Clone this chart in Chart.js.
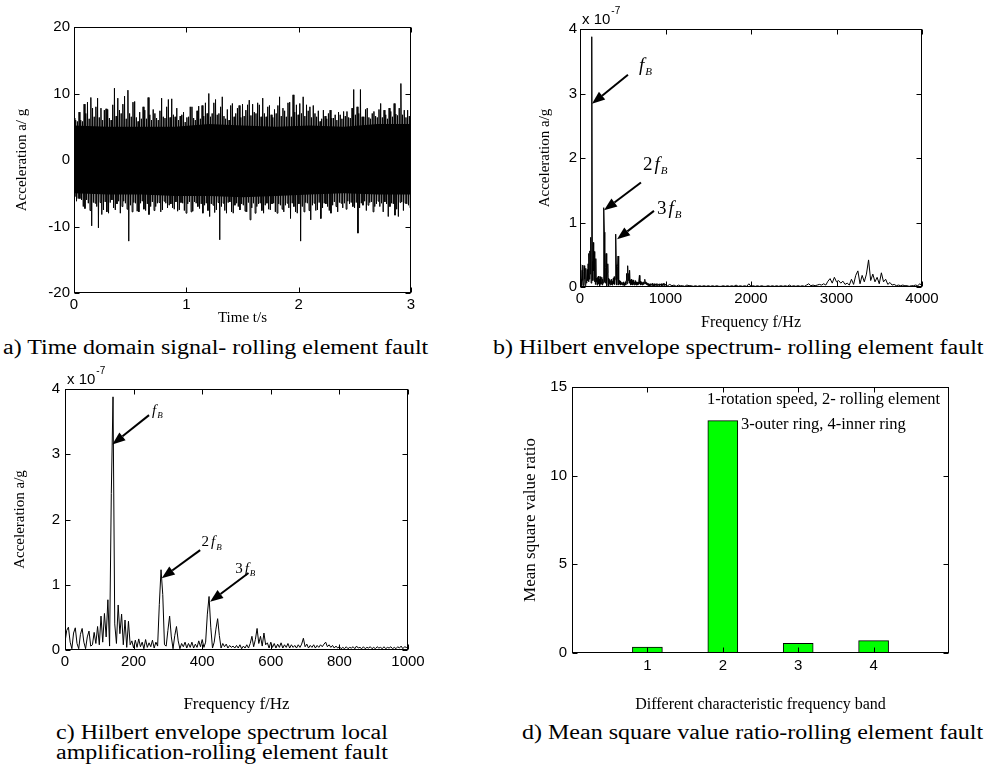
<!DOCTYPE html>
<html>
<head>
<meta charset="utf-8">
<script src="https://cdn.jsdelivr.net/npm/chart.js@4.4.1/dist/chart.umd.min.js"></script>
<style>
  body { margin: 0; background: #fff; }
  #page { position: relative; width: 991px; height: 771px; overflow: hidden; background: #fff; }
  canvas { position: absolute; }
  .cap { position: absolute; font-family: "Liberation Serif", "Times New Roman", serif; font-size: 20px; line-height: 20px;
         white-space: nowrap; color: #000; transform: scaleX(1.2); transform-origin: left top; }
</style>
</head>
<body>
<div id="page">
  <canvas id="chartA" width="420" height="330" style="left:0;top:0"></canvas>
  <canvas id="chartB" width="511" height="335" style="left:480px;top:0"></canvas>
  <canvas id="chartC" width="440" height="360" style="left:0;top:360px"></canvas>
  <canvas id="chartD" width="511" height="360" style="left:480px;top:360px"></canvas>
  <div class="cap" style="left:3px;top:337px">a) Time domain signal- rolling element fault</div>
  <div class="cap" style="left:493px;top:337px">b) Hilbert envelope spectrum- rolling element fault</div>
  <div class="cap" style="left:56px;top:722px">c) Hilbert envelope spectrum local<br>amplification-rolling element fault</div>
  <div class="cap" style="left:522px;top:722px">d) Mean square value ratio-rolling element fault</div>
</div>
<script>
// a) time signal: per 0.03 s bin, a max/min pair and a second pair half a bin later
const sigStep = 0.03;
const sigUpper = [
  6.3, 5.8, 6.0, 8.4, 8.7, 9.4, 6.5, 9.3, 7.8, 7.5,
  7.6, 6.0, 10.8, 9.3, 7.0, 9.6, 10.5, 6.5, 8.8, 5.8,
  6.2, 7.5, 9.4, 6.0, 7.0, 6.0, 9.3, 6.3, 9.1, 9.2,
  6.5, 6.0, 6.8, 5.7, 6.5, 8.0, 6.0, 8.1, 8.2, 8.6,
  10.0, 7.0, 9.1, 7.0, 9.5, 6.2, 6.0, 8.5, 7.0, 8.2,
  8.4, 7.5, 9.0, 8.4, 7.0, 8.3, 9.3, 6.5, 8.2, 6.4,
  7.0, 9.5, 7.8, 6.5, 8.7, 9.8, 8.3, 8.5, 9.5, 8.3,
  8.0, 8.2, 6.5, 5.8, 7.5, 6.2, 7.5, 6.3, 6.0, 6.8,
  7.3, 7.3, 6.3, 10.6, 8.0, 10.6, 6.5, 7.8, 6.2, 7.3,
  6.4, 8.5, 7.5, 6.2, 7.3, 8.5, 6.7, 11.5, 7.5, 7.5
];
const sigLower = [
  -5.5, -5.8, -6.0, -7.3, -6.5, -9.9, -6.5, -10.2, -8.2, -6.3,
  -8.0, -6.0, -7.5, -6.2, -7.0, -6.5, -12.2, -7.8, -6.5, -7.8,
  -6.2, -7.6, -8.2, -6.3, -7.0, -6.4, -7.5, -6.5, -6.8, -7.2,
  -6.3, -7.5, -6.5, -8.0, -6.3, -7.7, -6.5, -7.3, -8.0, -6.5,
  -8.5, -6.8, -7.5, -12.0, -6.5, -8.0, -6.3, -8.0, -6.5, -7.5,
  -6.8, -7.8, -9.0, -6.5, -7.0, -6.5, -8.0, -6.5, -7.5, -6.5,
  -8.0, -6.8, -7.8, -6.5, -8.8, -7.0, -8.0, -12.2, -7.8, -6.5,
  -9.0, -6.5, -7.5, -8.8, -6.5, -7.0, -8.0, -6.3, -7.8, -6.5,
  -6.5, -6.2, -6.4, -7.2, -11.0, -6.5, -6.2, -6.8, -6.3, -7.0,
  -6.2, -6.5, -6.3, -8.5, -6.5, -8.3, -8.5, -6.3, -6.5, -6.8
];
const sigUpper2 = [
  6.0, 7.2, 5.8, 7.0, 6.2, 7.8, 8.0, 6.4, 6.0, 7.7,
  6.3, 8.3, 6.6, 7.5, 8.4, 6.2, 7.0, 8.7, 6.4, 7.2,
  8.0, 6.2, 6.8, 7.6, 6.3, 7.4, 6.5, 8.0, 6.4, 6.8,
  7.8, 6.6, 7.2, 6.4, 8.0, 6.3, 7.4, 6.2, 6.6, 7.0,
  6.5, 8.6, 6.8, 8.0, 6.6, 7.6, 8.2, 6.5, 7.8, 6.4,
  6.6, 8.3, 6.7, 7.2, 8.6, 6.5, 7.0, 8.0, 6.8, 7.6,
  8.2, 6.6, 7.4, 8.6, 6.5, 7.2, 6.8, 7.0, 6.6, 7.4,
  6.4, 7.0, 7.4, 6.2, 6.6, 7.0, 6.3, 6.8, 7.2, 6.2,
  6.6, 6.4, 7.8, 6.8, 7.0, 6.5, 7.6, 6.4, 7.0, 6.6,
  7.6, 6.4, 6.8, 7.8, 6.5, 6.9, 7.8, 6.8, 6.4, 6.6
];
const sigLower2 = [
  -6.2, -5.8, -7.0, -6.0, -7.6, -6.4, -7.0, -6.4, -7.5, -7.8,
  -6.4, -7.2, -6.6, -8.0, -6.2, -7.4, -6.8, -6.4, -7.7, -6.5,
  -7.4, -6.6, -7.0, -7.6, -6.5, -7.8, -6.2, -7.2, -6.6, -7.4,
  -7.7, -6.4, -7.6, -6.6, -7.8, -6.3, -7.0, -6.6, -6.8, -7.6,
  -6.6, -7.9, -6.4, -7.0, -7.6, -6.4, -7.8, -6.8, -7.0, -6.6,
  -7.7, -6.4, -7.2, -8.0, -6.6, -7.6, -6.8, -7.4, -6.6, -7.8,
  -6.6, -7.4, -6.8, -7.2, -6.5, -7.8, -6.6, -7.0, -6.4, -7.6,
  -6.8, -7.6, -6.4, -7.2, -6.6, -7.6, -6.8, -7.0, -6.4, -7.2,
  -7.4, -6.6, -7.0, -6.4, -7.2, -6.8, -7.6, -6.4, -7.8, -6.6,
  -7.0, -7.8, -6.6, -7.0, -6.6, -7.4, -6.4, -7.6, -6.6, -7.2
];
// solid core of the signal, every 0.3 s
const coreStep = 0.3;
const coreTop = [5.2, 5.0, 5.0, 5.0, 5.4, 5.2, 5.0, 5.2, 5.0, 5.4, 5.4];
const coreBottom = [-5.0, -5.2, -5.2, -5.4, -5.4, -5.6, -5.4, -5.2, -5.0, -5.2, -5.2];

// b/c) envelope spectrum, x 1e-7 g; 0-1000 Hz every 5 Hz
const specLowStep = 5;
const specLow = [
  0.12, 0.30, 0.35, 0.12, 0.02, 0.26, 0.34, 0.10, 0.02, 0.24, 0.33, 0.12, 0.02, 0.20, 0.29, 0.06, 0.08, 0.27, 0.10, 0.36,
  0.08, 0.52, 0.12, 0.56, 0.20, 0.77, 0.06, 2.40, 3.88, 0.40, 0.10, 0.69, 0.25, 0.55, 0.08, 0.46, 0.04, 0.44, 0.08, 0.14,
  0.03, 0.15, 0.04, 0.17, 0.05, 0.12, 0.02, 0.16, 0.04, 0.11, 0.05, 0.15, 0.03, 0.12, 0.06, 0.70, 1.23, 0.85, 0.08, 0.06,
  0.30, 0.52, 0.20, 0.02, 0.22, 0.36, 0.14, 0.02, 0.10, 0.05, 0.12, 0.03, 0.10, 0.04, 0.12, 0.03, 0.09, 0.04, 0.14, 0.05,
  0.16, 0.04, 0.12, 0.55, 0.82, 0.35, 0.03, 0.12, 0.32, 0.48, 0.22, 0.03, 0.10, 0.05, 0.09, 0.03, 0.07, 0.04, 0.06, 0.03,
  0.07, 0.03, 0.08, 0.02, 0.06, 0.03, 0.08, 0.03, 0.10, 0.21, 0.05, 0.16, 0.33, 0.10, 0.21, 0.06, 0.26, 0.08, 0.11, 0.03,
  0.12, 0.04, 0.10, 0.03, 0.09, 0.04, 0.11, 0.03, 0.08, 0.04, 0.10, 0.03, 0.08, 0.04, 0.07, 0.03, 0.08, 0.04, 0.09, 0.18,
  0.05, 0.09, 0.03, 0.07, 0.04, 0.08, 0.03, 0.07, 0.04, 0.08, 0.05, 0.09, 0.12, 0.05, 0.08, 0.04, 0.07, 0.03, 0.06, 0.03,
  0.05, 0.02, 0.04, 0.02, 0.05, 0.02, 0.04, 0.03, 0.05, 0.02, 0.06, 0.03, 0.04, 0.02, 0.05, 0.02, 0.04, 0.03, 0.05, 0.02,
  0.04, 0.02, 0.05, 0.03, 0.04, 0.02, 0.05, 0.02, 0.04, 0.03, 0.05, 0.02, 0.04, 0.02, 0.05, 0.03, 0.06, 0.02, 0.05, 0.04,
  0.03
];
// 1025-4000 Hz every 25 Hz
const specHighStart = 1025;
const specHighStep = 25;
const specHigh = [
  0.02, 0.04, 0.02, 0.03, 0.01, 0.03, 0.02, 0.02, 0.01, 0.03, 0.02, 0.02, 0.01, 0.02, 0.01, 0.02, 0.01, 0.02, 0.01, 0.02,
  0.01, 0.02, 0.01, 0.02, 0.01, 0.01, 0.02, 0.01, 0.02, 0.01, 0.02, 0.01, 0.03, 0.01, 0.02, 0.01, 0.02, 0.01, 0.05, 0.01,
  0.02, 0.01, 0.02, 0.01, 0.02, 0.01, 0.01, 0.02, 0.01, 0.02, 0.01, 0.02, 0.01, 0.02, 0.01, 0.02, 0.01, 0.03, 0.01, 0.02,
  0.01, 0.02, 0.01, 0.02, 0.01, 0.03, 0.05, 0.02, 0.03, 0.02, 0.03, 0.04, 0.03, 0.05, 0.03, 0.09, 0.13, 0.06, 0.15, 0.08,
  0.10, 0.06, 0.09, 0.04, 0.06, 0.03, 0.12, 0.04, 0.18, 0.25, 0.05, 0.18, 0.08, 0.20, 0.42, 0.10, 0.20, 0.08, 0.15, 0.05,
  0.22, 0.08, 0.12, 0.04, 0.07, 0.03, 0.04, 0.02, 0.03, 0.02, 0.03, 0.02, 0.02, 0.01, 0.02, 0.02, 0.03, 0.02, 0.05, 0.02
];

// d) mean square value ratio per band
const bands = [1, 2, 3, 4];
const msRatio = [0.33, 13.1, 0.55, 0.7];

const serif = '"Liberation Serif", "Times New Roman", serif';
const sans = '"Liberation Sans", Arial, sans-serif';
Chart.defaults.color = '#000';
Chart.defaults.animation = false;

const sigPoints = [];
sigUpper.forEach((v, i) => {
  const t = i * sigStep;
  sigPoints.push({ x: t, y: v });
  sigPoints.push({ x: t + sigStep / 4, y: sigLower[i] });
  sigPoints.push({ x: t + sigStep / 2, y: sigUpper2[i] });
  sigPoints.push({ x: t + 3 * sigStep / 4, y: sigLower2[i] });
});
const coreTopPts = coreTop.map((v, i) => ({ x: i * coreStep, y: v }));
const coreBotPts = coreBottom.map((v, i) => ({ x: i * coreStep, y: v }));

const lowPts = specLow.map((v, i) => ({ x: i * specLowStep, y: v }));
const specPts = lowPts.concat(specHigh.map((v, i) => ({ x: specHighStart + i * specHighStep, y: v })));

// box round the plot with inward ticks on all four sides
const frame = {
  id: 'frame',
  afterDraw(chart, args, o) {
    const { ctx, chartArea: a } = chart;
    const xs = chart.scales.x, ys = chart.scales.y;
    const L = 5;
    ctx.save();
    ctx.strokeStyle = '#000';
    ctx.lineWidth = 1;
    const l = Math.round(a.left) + 0.5, t = Math.round(a.top) + 0.5;
    const r = Math.round(a.right) - 0.5, b = Math.round(a.bottom) - 0.5;
    ctx.strokeRect(l, t, r - l, b - t);
    ctx.beginPath();
    xs.ticks.forEach(tk => {
      if (o.onlyX && !o.onlyX.includes(tk.value)) return;
      const px = Math.round(xs.getPixelForValue(tk.value)) + 0.5;
      ctx.moveTo(px, b); ctx.lineTo(px, b - L);
      ctx.moveTo(px, t); ctx.lineTo(px, t + L);
    });
    ys.ticks.forEach(tk => {
      const py = Math.round(ys.getPixelForValue(tk.value)) + 0.5;
      ctx.moveTo(l, py); ctx.lineTo(l + L, py);
      ctx.moveTo(r, py); ctx.lineTo(r - L, py);
    });
    ctx.stroke();
    ctx.restore();
  }
};

function drawArrow(ctx, x1, y1, x2, y2) {
  const ang = Math.atan2(y2 - y1, x2 - x1);
  const head = 13, half = 5;
  const bx = x2 - head * Math.cos(ang), by = y2 - head * Math.sin(ang);
  ctx.lineWidth = 2;
  ctx.beginPath(); ctx.moveTo(x1, y1); ctx.lineTo(bx, by); ctx.stroke();
  ctx.beginPath();
  ctx.moveTo(x2, y2);
  ctx.lineTo(bx + half * Math.sin(ang), by - half * Math.cos(ang));
  ctx.lineTo(bx - half * Math.sin(ang), by + half * Math.cos(ang));
  ctx.closePath(); ctx.fill();
}

function drawHarmonic(ctx, x, y, prefix, size) {
  ctx.textAlign = 'left';
  ctx.textBaseline = 'alphabetic';
  let cx = x;
  if (prefix) {
    ctx.font = size + 'px ' + serif;
    ctx.fillText(prefix, cx, y);
    cx += ctx.measureText(prefix).width + 2;
  }
  ctx.font = 'italic ' + size + 'px ' + serif;
  ctx.fillText('f', cx, y);
  cx += ctx.measureText('f').width + 1;
  ctx.font = 'italic ' + Math.round(size * 0.6) + 'px ' + serif;
  ctx.fillText('B', cx, y + size * 0.22);
}

// arrows, harmonic labels, exponent and free text
const notes = {
  id: 'notes',
  afterDraw(chart, args, o) {
    const { ctx, chartArea: a } = chart;
    const xs = chart.scales.x, ys = chart.scales.y;
    ctx.save();
    ctx.fillStyle = '#000';
    ctx.strokeStyle = '#000';
    (o.arrows || []).forEach(ar => {
      drawArrow(ctx, xs.getPixelForValue(ar[0]), ys.getPixelForValue(ar[1]),
        xs.getPixelForValue(ar[2]), ys.getPixelForValue(ar[3]));
    });
    (o.harmonics || []).forEach(h => {
      drawHarmonic(ctx, xs.getPixelForValue(h.x), ys.getPixelForValue(h.y), h.prefix, o.size);
    });
    if (o.exponent) {
      ctx.textAlign = 'left';
      ctx.textBaseline = 'alphabetic';
      ctx.font = '15px ' + sans;
      ctx.fillText('x 10', a.left + 2, a.top - 5);
      const w = ctx.measureText('x 10').width;
      ctx.font = '10px ' + sans;
      ctx.fillText('-7', a.left + 3 + w, a.top - 15);
    }
    (o.texts || []).forEach(tx => {
      ctx.textAlign = 'left';
      ctx.textBaseline = 'middle';
      ctx.font = '16.5px ' + serif;
      ctx.fillText(tx.text, xs.getPixelForValue(tx.x), ys.getPixelForValue(tx.y));
    });
    ctx.restore();
  }
};

function xAxis(min, max, step, title, h, titlePad, tickPad, titleSize) {
  return {
    type: 'linear', min: min, max: max, offset: false,
    ticks: { stepSize: step, font: { family: sans, size: 15 }, padding: tickPad, color: '#000',
      callback: v => String(v) },
    grid: { display: false, drawTicks: false }, border: { display: false },
    title: { display: true, text: title, color: '#000', font: { family: serif, size: titleSize },
      padding: { top: 0, bottom: titlePad } },
    afterFit: s => { s.height = h; }
  };
}

function yAxis(min, max, step, title, w, titlePad, tickPad, titleSize) {
  return {
    type: 'linear', min: min, max: max,
    ticks: { stepSize: step, font: { family: sans, size: 15 }, padding: tickPad, color: '#000',
      callback: v => String(v) },
    grid: { display: false, drawTicks: false }, border: { display: false },
    title: { display: true, text: title, color: '#000', font: { family: serif, size: titleSize || 15 },
      padding: { top: titlePad, bottom: 0 } },
    afterFit: s => { s.width = w; }
  };
}

const basePlugins = { legend: { display: false }, tooltip: { enabled: false } };

// a) time domain signal
new Chart(document.getElementById('chartA'), {
  type: 'line',
  data: {
    datasets: [
      { data: coreTopPts, borderWidth: 0, pointRadius: 0, fill: '+1', backgroundColor: '#000' },
      { data: coreBotPts, borderWidth: 0, pointRadius: 0, fill: false },
      { data: sigPoints, borderColor: '#000', borderWidth: 1, pointRadius: 0, tension: 0, fill: false }
    ]
  },
  options: {
    responsive: false,
    layout: { padding: { top: 27, right: 9, left: 0, bottom: 0 } },
    scales: {
      x: xAxis(0, 3, 1, 'Time t/s', 37, 3, 3, 15),
      y: yAxis(-20, 20, 10, 'Acceleration a/ g', 74, 13, 4)
    },
    plugins: Object.assign({ frame: {} }, basePlugins)
  },
  plugins: [frame]
});

// b) Hilbert envelope spectrum
new Chart(document.getElementById('chartB'), {
  type: 'line',
  data: {
    datasets: [
      { data: specPts, borderColor: '#000', borderWidth: 1, pointRadius: 0, tension: 0, fill: false }
    ]
  },
  options: {
    responsive: false,
    layout: { padding: { top: 29, right: 69, left: 0, bottom: 0 } },
    scales: {
      x: xAxis(0, 4000, 1000, 'Frequency f/Hz', 48, 3, 3, 16),
      y: yAxis(0, 4, 1, 'Acceleration a/g', 100, 56, 3)
    },
    plugins: Object.assign({
      frame: {},
      notes: {
        size: 19,
        exponent: true,
        arrows: [[561, 3.29, 140, 2.84], [713, 1.62, 281, 1.19], [865, 1.18, 433, 0.74]],
        harmonics: [{ x: 690, y: 3.35, prefix: '' }, { x: 737, y: 1.81, prefix: '2' }, { x: 901, y: 1.13, prefix: '3' }]
      }
    }, basePlugins)
  },
  plugins: [frame, notes]
});

// c) local amplification 0-1000 Hz
new Chart(document.getElementById('chartC'), {
  type: 'line',
  data: {
    datasets: [
      { data: lowPts, borderColor: '#000', borderWidth: 1, pointRadius: 0, tension: 0, fill: false }
    ]
  },
  options: {
    responsive: false,
    layout: { padding: { top: 29, right: 32, left: 0, bottom: 0 } },
    scales: {
      x: xAxis(0, 1000, 200, 'Frequency f/Hz', 70, 5, 3, 17),
      y: yAxis(0, 4, 1, 'Acceleration a/g', 65, 11, 5)
    },
    plugins: Object.assign({
      frame: {},
      notes: {
        size: 15,
        exponent: true,
        arrows: [[245, 3.60, 138, 3.15], [394, 1.53, 282, 1.10], [535, 1.18, 423, 0.74]],
        harmonics: [{ x: 254, y: 3.60, prefix: '' }, { x: 398, y: 1.59, prefix: '2' }, { x: 496, y: 1.18, prefix: '3' }]
      }
    }, basePlugins)
  },
  plugins: [frame, notes]
});

// d) mean square value ratio
new Chart(document.getElementById('chartD'), {
  type: 'bar',
  data: {
    datasets: [{
      data: bands.map((b, i) => ({ x: b, y: msRatio[i] })),
      backgroundColor: '#00ff00', borderColor: '#000', borderWidth: 1, barThickness: 30
    }]
  },
  options: {
    responsive: false,
    layout: { padding: { top: 27, right: 42, left: 0, bottom: 0 } },
    scales: {
      x: Object.assign(xAxis(0, 5, 1, 'Different characteristic frequency band', 67, 6, 4, 16), {
        ticks: { stepSize: 1, font: { family: sans, size: 15 }, padding: 4, color: '#000',
          callback: v => (bands.includes(v) ? String(v) : '') }
      }),
      y: yAxis(0, 15, 5, 'Mean square value ratio', 92, 40, 5, 17)
    },
    plugins: Object.assign({
      frame: { onlyX: bands },
      notes: {
        texts: [
          { x: 1.79, y: 14.27, text: '1-rotation speed, 2- rolling element' },
          { x: 2.24, y: 12.86, text: '3-outer ring, 4-inner ring' }
        ]
      }
    }, basePlugins)
  },
  plugins: [frame, notes]
});
</script>
</body>
</html>
